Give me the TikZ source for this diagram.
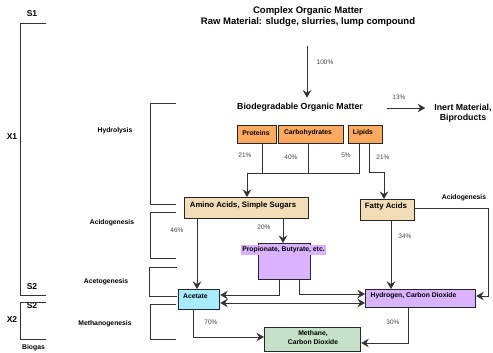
\documentclass[tikz,border=0pt]{standalone}
\usepackage{fontspec}
\setmainfont{Liberation Sans}
\usetikzlibrary{arrows.meta,calc}
\definecolor{corange}{HTML}{FFAA5E}
\definecolor{ctan}{HTML}{F3DDB6}
\definecolor{cpurple}{HTML}{D9B3FF}
\definecolor{ccyan}{HTML}{A8ECFF}
\definecolor{cgreen}{HTML}{C5E2C8}
\definecolor{linegray}{HTML}{333333}
\definecolor{pctgray}{HTML}{444444}
\tikzset{
  line/.style={draw=linegray, line width=0.9pt},
  arr/.style={line, -{Stealth[length=7.5pt,width=8.5pt,inset=2.5pt]}},
  dbl/.style={line, {Stealth[length=7.5pt,width=8.5pt,inset=2.5pt]}-{Stealth[length=7.5pt,width=8.5pt,inset=2.5pt]}},
  box/.style={draw=black!85, line width=1.2pt, inner sep=0, anchor=north west},
  lab/.style={font=\bfseries\fontsize{6.8}{8.5}\selectfont, inner sep=0, align=center},
  mid/.style={font=\bfseries\fontsize{7.8}{9}\selectfont, inner sep=0, align=center},
  big/.style={font=\bfseries\fontsize{8.8}{10.5}\selectfont, inner sep=0, align=center},
  stg/.style={font=\bfseries\fontsize{8.5}{10}\selectfont, inner sep=0},
  pct/.style={font=\fontsize{6.5}{8}\selectfont, text=pctgray, inner sep=0},
}
\begin{document}
\begin{tikzpicture}[x=1pt,y=-1pt]
\useasboundingbox (0,0) rectangle (493,353);

% title and top texts
\node[font=\bfseries\fontsize{9.5}{11}\selectfont, inner sep=0, align=center] (title) at (308,16.5)
  {Complex Organic Matter\\Raw Material: sludge, slurries, lump compound};
\node[big] (bio) at (300,107) {Biodegradable Organic Matter};
\node[big] (inert) at (463,113) {Inert Material,\\Biproducts};

% boxes
\node[box, fill=corange, minimum width=39, minimum height=18] (prot) at (237,125) {};
\node[box, fill=corange, minimum width=65, minimum height=18] (carb) at (278,125) {};
\node[box, fill=corange, minimum width=34, minimum height=18] (lip) at (348,125) {};
\node[box, fill=ctan, minimum width=124, minimum height=21] (amino) at (184,197) {};
\node[box, fill=ctan, minimum width=54, minimum height=21] (fatty) at (360,199) {};
\node[box, fill=cpurple, minimum width=52, minimum height=36] (prop) at (258,243) {};
\node[box, fill=ccyan, minimum width=41, minimum height=20] (acet) at (178,289) {};
\node[box, fill=cpurple, minimum width=110, minimum height=18] (hyd) at (365,289) {};
\node[box, fill=cgreen, minimum width=96, minimum height=24] (meth) at (264,327) {};

% box texts
\node[lab] (tprot) at (256,133) {Proteins};
\node[lab] (tcarb) at (308,133) {Carbohydrates};
\node[lab] (tlip) at (363,133) {Lipids};
\node[mid] (tamino) at (243,205) {Amino Acids, Simple Sugars};
\node[mid] (tfatty) at (386,206.5) {Fatty Acids};
\node[lab, fill=cpurple, inner xsep=1.5pt, inner ysep=1.5pt] (tprop) at (283.5,250) {Propionate, Butyrate, etc.};
\node[lab] (tacet) at (195.5,296) {Acetate};
\node[lab] (thyd) at (413.5,296) {Hydrogen, Carbon Dioxide};
\node[lab] (tmeth) at (313,337.5) {Methane,\\Carbon Dioxide};

% stage labels
\node[stg] (s1) at (32,14) {S1};
\node[stg] (x1) at (12,137) {X1};
\node[stg] (s2a) at (32,287) {S2};
\node[stg] (s2b) at (32,306) {S2};
\node[stg] (x2) at (12,320) {X2};
\node[lab] (biogas) at (33.5,348) {Biogas};
\node[lab] (hydro) at (115,131) {Hydrolysis};
\node[lab] (acido) at (112,223) {Acidogenesis};
\node[lab] (aceto) at (106,282) {Acetogenesis};
\node[lab] (metha) at (105,324) {Methanogenesis};
\node[lab] (acido2) at (464,198) {Acidogenesis};

% brackets
\draw[line] (46,23) -- (20,23) -- (20,295) -- (46,295);
\draw[line] (46,302) -- (20,302) -- (20,339) -- (46,339);
\draw[line] (176,103) -- (150,103) -- (150,204) -- (176,204);
\draw[line] (176,212) -- (150,212) -- (150,258) -- (176,258);
\draw[line] (177,267) -- (149,267) -- (149,296) -- (177,296);
\draw[line] (176,304) -- (150,304) -- (150,339) -- (176,339);

% percentages
\node[pct] (p100) at (325,62) {100\%};
\node[pct] (p13) at (399,97) {13\%};
\node[pct] (p21a) at (245,155) {21\%};
\node[pct] (p40) at (291,157) {40\%};
\node[pct] (p5) at (346,155) {5\%};
\node[pct] (p21b) at (383,157) {21\%};
\node[pct] (p46) at (177,230) {46\%};
\node[pct] (p20) at (264,227) {20\%};
\node[pct] (p34) at (405,236) {34\%};
\node[pct] (p70) at (211,322) {70\%};
\node[pct] (p30) at (393,322) {30\%};

% connectors
\draw[arr, shorten <=19pt, shorten >=5pt] (title.south -| 307,0) -- (bio.north -| 307,0);
\draw[arr, shorten <=24pt, shorten >=9pt] (bio.east |- 0,108) -- (inert.west |- 0,108);
\draw[line] (prot.south -| 262,0) -- (262,173);
\draw[line] (carb.south -| 308,0) -- (308,173);
\draw[arr] (lip.south -| 359,0) -- (359,173) -- (247,173) -- (amino.north -| 247,0);
\draw[arr] (lip.south -| 369,0) -- (369,172) -- (384,172) -- (fatty.north -| 384,0);
\draw[arr] (amino.south -| 197,0) -- (acet.north -| 197,0);
\draw[arr] (amino.south -| 283,0) -- (prop.north -| 283,0);
\draw[arr] (fatty.south -| 391,0) -- (hyd.north -| 391,0);
\draw[arr] (fatty.east |- 0,208) -- (488,208) -- (488,296) -- (hyd.east |- 0,296);
\draw[arr] (prop.south -| 279,0) -- (279,295) -- (acet.east |- 0,295);
\draw[arr] (prop.south -| 299,0) -- (299,294) -- (hyd.west |- 0,294);
\draw[dbl] (acet.east |- 0,303) -- (hyd.west |- 0,303);
\draw[arr] (acet.south -| 193,0) -- (193,337) -- (meth.west |- 0,337);
\draw[arr] (hyd.south -| 408,0) -- (408,343) -- (meth.east |- 0,343);
\end{tikzpicture}
\end{document}
